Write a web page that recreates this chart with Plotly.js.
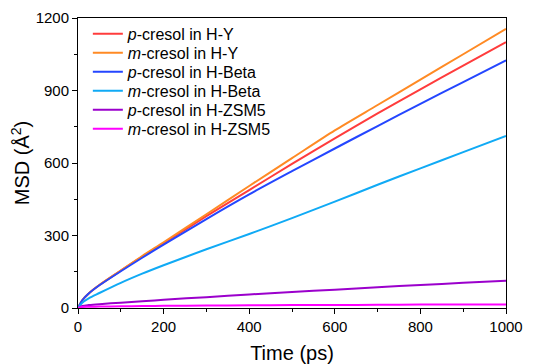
<!DOCTYPE html>
<html>
<head>
<meta charset="utf-8">
<script src="https://cdn.plot.ly/plotly-3.0.1.min.js"></script>
<style>html,body{margin:0;padding:0;background:#fff;}#chart{width:540px;height:364px;}</style>
</head>
<body>
<div id="chart"></div>
<script>
const timePs = [0, 10, 25, 50, 100, 150, 200, 300, 400, 500, 600, 700, 800, 900, 1000];
const pCresolHY = [0, 32, 60, 95, 155, 213, 268, 380, 488, 596, 702, 805, 905, 1003, 1100];
const mCresolHY = [0, 32, 60, 95, 155, 215, 272, 388, 505, 620, 735, 840, 945, 1050, 1155];
const pCresolHBeta = [0, 32, 60, 94, 152, 208, 262, 368, 470, 566, 660, 753, 845, 935, 1025];
const mCresolHBeta = [0, 22, 40, 62, 104, 142, 177, 243, 306, 372, 440, 510, 578, 645, 712];
const pCresolHZSM5 = [0, 8, 12, 16, 22, 28, 34, 45, 56, 66, 76, 86, 95, 104, 113];
const mCresolHZSM5 = [0, 4, 5, 6, 7, 8, 9, 10, 11, 12, 12.5, 13, 14, 14.5, 15];
const seriesNames = [
  '<i>p</i>-cresol in H-Y',
  '<i>m</i>-cresol in H-Y',
  '<i>p</i>-cresol in H-Beta',
  '<i>m</i>-cresol in H-Beta',
  '<i>p</i>-cresol in H-ZSM5',
  '<i>m</i>-cresol in H-ZSM5'
];
const seriesValues = [pCresolHY, mCresolHY, pCresolHBeta, mCresolHBeta, pCresolHZSM5, mCresolHZSM5];
const colors = ['#ff3c3c', '#ff8a24', '#2446ff', '#10aaf5', '#9b00cc', '#ff00ff'];

const legendIds = ['legend', 'legend2', 'legend3', 'legend4', 'legend5', 'legend6'];

const traces = seriesValues.map((ys, i) => ({
  x: timePs, y: ys, name: seriesNames[i], type: 'scatter', mode: 'lines',
  legend: legendIds[i],
  line: {color: colors[i], width: 2, shape: 'spline', smoothing: 0.8}
}));

const FONT = 'Liberation Sans, Arial, sans-serif';
const axisCommon = {
  showgrid: false, zeroline: false, showline: true, linecolor: '#000', linewidth: 1,
  mirror: true, ticks: 'outside', ticklen: 5, tickwidth: 1, tickcolor: '#000',
  tickfont: {family: FONT, size: 15, color: '#000'}
};

const layout = {
  width: 540, height: 364,
  margin: {l: 78, r: 34, t: 18, b: 56},
  paper_bgcolor: '#fff', plot_bgcolor: '#fff',
  font: {family: FONT, color: '#000'},
  showlegend: true,
  xaxis: Object.assign({}, axisCommon, {
    range: [0, 1000], dtick: 200, tick0: 0,
    minor: {dtick: 100, ticks: 'outside', ticklen: 3, tickwidth: 1, tickcolor: '#000'},
    title: {text: 'Time (ps)', font: {family: FONT, size: 20, color: '#000'}, standoff: 12}
  }),
  yaxis: Object.assign({}, axisCommon, {
    range: [0, 1200], dtick: 300, tick0: 0,
    minor: {dtick: 150, ticks: 'outside', ticklen: 3, tickwidth: 1, tickcolor: '#000'},
    title: {text: 'MSD (Å<sup>2</sup>)', font: {family: FONT, size: 20, color: '#000'}, standoff: 0}
  })
};

legendIds.forEach((id, i) => {
  layout[id] = {
    x: 0.023, y: 1.004 - i * 0.0655, xanchor: 'left', yanchor: 'top',
    bgcolor: 'rgba(0,0,0,0)', borderwidth: 0,
    font: {family: FONT, size: 16, color: '#000'}
  };
});

Plotly.newPlot('chart', traces, layout, {displayModeBar: false, staticPlot: true});
</script>
</body>
</html>
